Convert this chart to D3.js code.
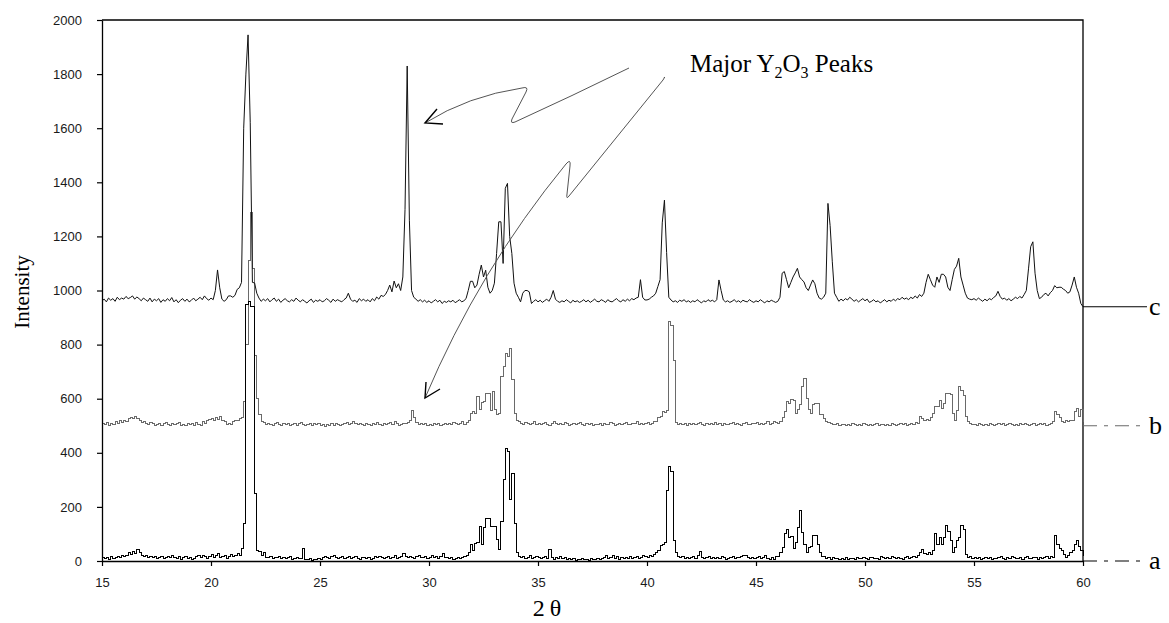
<!DOCTYPE html>
<html>
<head>
<meta charset="utf-8">
<script src="https://cdn.jsdelivr.net/npm/d3@7"></script>
<style>
  html, body { margin: 0; padding: 0; background: #fff; }
  svg { display: block; }
</style>
</head>
<body>
<svg id="chart" width="1169" height="623"></svg>
<script>
// XRD scans, 2-theta from 15 to 60 deg in 0.1 deg steps.
const thetaStart = 15;
const thetaStep = 0.1;

// Pattern a (bottom)
const seriesA = [
  14, 8, 12, 6, 15, 10, 14, 18, 12, 20,
  16, 22, 30, 24, 34, 26, 42, 30, 22, 18,
  20, 14, 16, 12, 18, 10, 14, 16, 8, 12,
  16, 14, 20, 12, 10, 16, 6, 14, 18, 8,
  12, 4, 10, 16, 20, 14, 22, 18, 10, 16,
  24, 12, 20, 26, 14, 18, 22, 10, 16, 24,
  18, 20, 28, 22, 45, 140, 950, 958, 940, 940,
  250, 40, 34, 22, 30, 14, 12, 16, 10, 14,
  12, 16, 8, 14, 10, 12, 18, 6, 10, 14,
  10, 8, 46, 6, 4, 8, 2, 6, 4, 8,
  6, 12, 18, 14, 10, 16, 20, 12, 8, 14,
  16, 10, 14, 18, 8, 12, 16, 10, 6, 12,
  14, 8, 12, 4, 10, 16, 12, 18, 14, 10,
  12, 16, 10, 14, 20, 8, 14, 18, 28, 16,
  12, 18, 14, 10, 16, 22, 12, 14, 18, 10,
  14, 20, 12, 16, 10, 18, 26, 14, 12, 8,
  12, 6, 10, 14, 8, 12, 18, 22, 30, 62,
  40, 64, 70, 127, 62, 125, 158, 158, 127, 127,
  128, 78, 43, 145, 300, 416, 403, 227, 325, 140,
  30, 18, 12, 16, 10, 14, 20, 8, 12, 16,
  14, 10, 12, 18, 8, 44, 12, 6, 14, 10,
  16, 8, 12, 6, 10, 4, 8, 2, 6, 4,
  10, 4, 6, 2, 8, 4, 6, 10, 4, 8,
  12, 20, 8, 14, 22, 10, 16, 6, 12, 8,
  14, 10, 16, 8, 12, 18, 10, 14, 22, 16,
  12, 20, 18, 24, 32, 40, 58, 62, 70, 260,
  350, 330, 75, 30, 18, 12, 16, 8, 14, 10,
  12, 16, 8, 20, 34, 14, 10, 12, 16, 8,
  12, 10, 14, 8, 16, 12, 6, 10, 14, 18,
  10, 14, 12, 16, 22, 20, 12, 8, 14, 10,
  12, 16, 8, 14, 20, 10, 6, 12, 4, 16,
  18, 30, 50, 100, 118, 88, 90, 45, 69, 123,
  188, 107, 60, 33, 50, 52, 94, 94, 60, 30,
  18, 16, 10, 14, 6, 12, 8, 10, 4, 8,
  6, 12, 4, 10, 8, 6, 14, 10, 8, 12,
  10, 6, 12, 14, 8, 10, 6, 16, 12, 8,
  14, 10, 18, 12, 8, 14, 10, 6, 12, 16,
  10, 14, 18, 12, 20, 30, 43, 28, 25, 30,
  25, 40, 100, 62, 88, 62, 88, 131, 110, 75,
  31, 50, 75, 88, 131, 118, 25, 12, 16, 10,
  14, 8, 12, 6, 10, 14, 8, 12, 4, 10,
  8, 12, 16, 10, 6, 14, 10, 18, 12, 8,
  10, 14, 6, 12, 16, 8, 10, 14, 12, 6,
  12, 8, 14, 18, 10, 16, 14, 94, 62, 48,
  37, 25, 12, 22, 30, 38, 62, 75, 55, 40,
  20
];

// Pattern b (middle)
const seriesB = [
  508, 505, 512, 502, 510, 506, 514, 510, 518, 512,
  520, 516, 526, 532, 528, 535, 526, 520, 513, 516,
  510, 504, 512, 508, 500, 506, 510, 502, 508, 512,
  506, 502, 510, 504, 508, 512, 500, 506, 502, 510,
  504, 508, 500, 512, 506, 502, 514, 510, 518, 522,
  526, 518, 530, 524, 535, 520, 514, 505, 510, 506,
  514, 521, 518, 526, 530, 590, 800, 1110, 1290, 1080,
  760, 600, 540, 516, 512, 506, 510, 504, 500, 508,
  512, 506, 502, 510, 504, 508, 500, 506, 510, 502,
  508, 512, 504, 500, 506, 510, 502, 508, 504, 510,
  500, 506, 498, 504, 500, 508, 502, 510, 506, 500,
  504, 508, 512, 506, 510, 514, 508, 504, 510, 506,
  502, 510, 506, 500, 508, 504, 512, 506, 502, 508,
  504, 510, 512, 506, 514, 508, 502, 506, 510, 508,
  512, 520, 558, 530, 512, 506, 510, 504, 508, 502,
  506, 500, 508, 504, 510, 502, 506, 508, 504, 510,
  506, 512, 508, 504, 510, 514, 506, 512, 520, 546,
  553, 546, 607, 560, 585, 590, 620, 620, 558, 625,
  560, 540, 545, 681, 718, 768, 756, 786, 670, 546,
  521, 515, 510, 506, 512, 508, 504, 510, 514, 506,
  510, 504, 508, 512, 506, 502, 510, 514, 508, 504,
  510, 506, 512, 508, 502, 506, 510, 504, 508, 512,
  506, 502, 508, 504, 510, 500, 506, 504, 508, 502,
  510, 504, 506, 512, 508, 502, 506, 510, 504, 508,
  512, 506, 504, 510, 508, 514, 506, 510, 504, 508,
  512, 506, 510, 516, 514, 530, 536, 552, 550, 556,
  885, 870, 740, 512, 506, 510, 504, 508, 502, 510,
  506, 510, 504, 508, 512, 506, 502, 508, 504, 510,
  506, 512, 504, 508, 502, 510, 506, 504, 508, 512,
  504, 510, 506, 502, 508, 512, 504, 506, 510, 508,
  512, 506, 510, 504, 508, 514, 506, 510, 516, 512,
  510, 515, 530, 552, 589, 583, 596, 595, 546, 560,
  577, 644, 675, 600, 560, 546, 577, 583, 583, 540,
  540, 528, 515, 512, 509, 506, 504, 508, 502, 506,
  504, 500, 506, 502, 508, 504, 500, 506, 502, 508,
  504, 500, 506, 502, 504, 508, 500, 506, 504, 502,
  506, 502, 508, 504, 500, 506, 510, 504, 508, 502,
  506, 510, 504, 512, 508, 534, 528, 521, 524, 521,
  530, 546, 570, 572, 595, 564, 583, 620, 620, 614,
  546, 521, 558, 644, 632, 610, 534, 515, 508, 504,
  506, 502, 508, 504, 500, 506, 502, 508, 504, 500,
  506, 510, 504, 508, 502, 506, 510, 504, 500, 506,
  502, 508, 504, 510, 506, 500, 504, 508, 502, 506,
  510, 504, 508, 502, 506, 510, 516, 552, 540, 530,
  515, 512, 520, 516, 520, 518, 552, 564, 534, 560,
  515
];

// Pattern c (top)
const seriesC = [
  962, 968, 958, 972, 964, 970, 960, 975, 966, 972,
  968, 978, 970, 974, 980, 968, 976, 970, 962, 972,
  966, 960, 972, 958, 968, 962, 970, 956, 966, 960,
  970, 962, 974, 958, 966, 955, 964, 970, 960, 968,
  958, 964, 972, 962, 968, 975, 966, 980, 970, 964,
  972, 966, 1000, 1076, 1010, 968, 960, 966, 980, 980,
  975, 982, 1004, 1010, 1030, 1600, 1800, 1945, 1620, 1030,
  1028, 990, 972, 960, 968, 962, 970, 958, 966, 972,
  960, 968, 956, 964, 970, 962, 958, 966, 960, 972,
  964, 958, 966, 960, 954, 962, 968, 956, 964, 960,
  966, 958, 962, 970, 964, 956, 968, 960, 966, 962,
  958, 966, 972, 990, 968, 960, 964, 956, 970, 962,
  968, 960, 966, 958, 970, 962, 976, 968, 982, 978,
  985, 1000, 1020, 995, 1035, 1010, 1025, 1000, 1050, 1300,
  1830, 1260, 1000, 975, 968, 960, 966, 958, 964, 956,
  962, 954, 960, 966, 958, 964, 952, 960, 956, 962,
  958, 964, 955, 960, 966, 958, 962, 970, 1000, 1034,
  1034, 1010, 1020, 1060, 1094, 1050, 1075, 1012, 990, 1000,
  1027, 1137, 1254, 1254, 1100, 1378, 1396, 1200, 1137, 1027,
  990, 975, 958, 990, 1000, 1000, 995, 952, 960, 966,
  958, 964, 956, 962, 968, 960, 975, 1000, 968, 960,
  956, 962, 958, 966, 960, 954, 964, 958, 962, 956,
  960, 966, 958, 964, 956, 962, 968, 960, 958, 966,
  962, 956, 966, 960, 958, 964, 970, 962, 958, 966,
  960, 968, 962, 970, 966, 972, 975, 1040, 975, 965,
  965, 968, 975, 980, 990, 1015, 1040, 1250, 1334, 1140,
  975, 965, 958, 962, 956, 964, 960, 966, 958, 962,
  956, 962, 958, 966, 960, 954, 962, 958, 966, 960,
  964, 958, 966, 1039, 1000, 965, 958, 962, 956, 960,
  966, 958, 962, 956, 964, 960, 958, 966, 960, 956,
  962, 958, 966, 960, 954, 962, 958, 964, 960, 956,
  960, 975, 1064, 1070, 1040, 1010, 1030, 1050, 1065, 1082,
  1050, 1040, 1032, 1010, 1000, 1020, 1039, 1025, 990, 972,
  968, 975, 990, 1322, 1240, 1106, 990, 975, 960, 968,
  962, 970, 965, 975, 968, 960, 966, 958, 964, 970,
  962, 968, 956, 960, 966, 958, 962, 954, 960, 966,
  958, 964, 960, 968, 962, 970, 966, 975, 968, 972,
  966, 975, 970, 980, 972, 985, 978, 990, 1030, 1060,
  1040, 1020, 1012, 1050, 1030, 1060, 1060, 1050, 1012, 1000,
  1040, 1078, 1090, 1119, 1050, 1020, 990, 972, 968, 966,
  970, 964, 972, 966, 960, 968, 962, 970, 966, 974,
  980, 997, 978, 968, 972, 964, 970, 962, 968, 975,
  970, 978, 972, 985, 1000, 1080, 1162, 1180, 1064, 1000,
  970, 975, 985, 990, 980, 992, 1000, 1018, 1010, 1012,
  1012, 1005, 1000, 990, 995, 1020, 1050, 1012, 990, 952,
  940
];

const xTicks = [15, 20, 25, 30, 35, 40, 45, 50, 55, 60];
const yTicks = [0, 200, 400, 600, 800, 1000, 1200, 1400, 1600, 1800, 2000];
const traceNames = ["a", "b", "c"];
const leaderLevels = [0, 500, 940];

const svg = d3.select("#chart");

const x = d3.scaleLinear().domain([15, 60]).range([102, 1083]);
const y = d3.scaleLinear().domain([0, 2000]).range([561, 20]);

const theta = i => thetaStart + i * thetaStep;

// frame: top and right edges
svg.append("path")
  .attr("d", `M${x(15)},${y(2000)}H${x(60)}V${y(0)}`)
  .attr("fill", "none").attr("stroke", "#000").attr("stroke-width", 1.3);

// traces
const stepLine = d3.line()
  .x((d, i) => x(theta(i)))
  .y(d => y(d))
  .curve(d3.curveStepAfter);
const plainLine = d3.line()
  .x((d, i) => x(theta(i)))
  .y(d => y(d));

svg.append("path").datum(seriesB)
  .attr("d", stepLine)
  .attr("fill", "none").attr("stroke", "#6a6a6a").attr("stroke-width", 1)
  .attr("shape-rendering", "crispEdges");

svg.append("path").datum(seriesA)
  .attr("d", stepLine)
  .attr("fill", "none").attr("stroke", "#000").attr("stroke-width", 1)
  .attr("shape-rendering", "crispEdges");

svg.append("path").datum(seriesC)
  .attr("d", plainLine)
  .attr("fill", "none").attr("stroke", "#111").attr("stroke-width", 1);

// axes
const yAxis = d3.axisLeft(y).tickValues(yTicks).tickSize(5).tickSizeOuter(0).tickPadding(15)
  .tickFormat(d3.format("d"));
const xAxis = d3.axisBottom(x).tickValues(xTicks).tickSize(5).tickSizeOuter(0).tickPadding(12)
  .tickFormat(d3.format("d"));

const gy = svg.append("g").attr("transform", `translate(${x(15)},0)`).call(yAxis);
const gx = svg.append("g").attr("transform", `translate(0,${y(0)})`).call(xAxis);

[gy, gx].forEach(g => {
  g.select(".domain").attr("stroke", "#000").attr("stroke-width", 1.3);
  g.selectAll(".tick line").attr("stroke", "#000").attr("stroke-width", 1.2);
  g.selectAll(".tick text")
    .attr("fill", "#1a1a1a")
    .style("font-family", "'Liberation Sans', Arial, sans-serif")
    .style("font-size", "13px");
});

// axis titles
svg.append("text")
  .attr("transform", "translate(29,292) rotate(-90)")
  .attr("text-anchor", "middle")
  .style("font-family", "'Liberation Serif', 'Times New Roman', serif")
  .style("font-size", "21px")
  .text("Intensity");

svg.append("text")
  .attr("x", 547).attr("y", 616)
  .attr("text-anchor", "middle")
  .style("font-family", "'Liberation Serif', 'Times New Roman', serif")
  .style("font-size", "24px")
  .text("2\u2009\u03b8");

// trace leaders and names on the right
const leaderStyles = [
  { stroke: "#000", dash: "14,7,4,7" },
  { stroke: "#6a6a6a", dash: "14,7,4,7" },
  { stroke: "#000", dash: null }
];
traceNames.forEach((name, k) => {
  const ly = y(leaderLevels[k]);
  svg.append("line")
    .attr("x1", x(60)).attr("x2", 1147)
    .attr("y1", ly).attr("y2", ly)
    .attr("stroke", leaderStyles[k].stroke)
    .attr("stroke-width", 1.1)
    .attr("stroke-dasharray", leaderStyles[k].dash);
  svg.append("text")
    .attr("x", 1149).attr("y", ly)
    .attr("dy", "0.3em")
    .style("font-family", "'Liberation Serif', 'Times New Roman', serif")
    .style("font-size", "26px")
    .text(name);
});

// annotation
const note = svg.append("text")
  .attr("x", 690).attr("y", 72)
  .style("font-family", "'Liberation Serif', 'Times New Roman', serif")
  .style("font-size", "25px");
note.append("tspan").text("Major Y");
note.append("tspan").attr("dy", 6).style("font-size", "16px").text("2");
note.append("tspan").attr("dy", -6).text("O");
note.append("tspan").attr("dy", 6).style("font-size", "16px").text("3");
note.append("tspan").attr("dy", -6).text(" Peaks");

// pointer arrows
const arrowLines = [
  "M629,68 Q572,96 515,122 Q510,124 512,119 L526,92 Q529,86 522,88 Q468,96 425,123",
  "M664,78 Q666,75 663,80 L569,196 Q566,200 567,194 L570,166 Q571,158 566,164 Q479,270 425,398"
];
const arrowHeads = [
  "M437,109 L425,123 L443,124",
  "M440,389 L425,398 L426,382"
];
arrowLines.forEach(d => svg.append("path").attr("d", d)
  .attr("fill", "none").attr("stroke", "#555").attr("stroke-width", 1));
arrowHeads.forEach(d => svg.append("path").attr("d", d)
  .attr("fill", "none").attr("stroke", "#000").attr("stroke-width", 1.4));
</script>
</body>
</html>
